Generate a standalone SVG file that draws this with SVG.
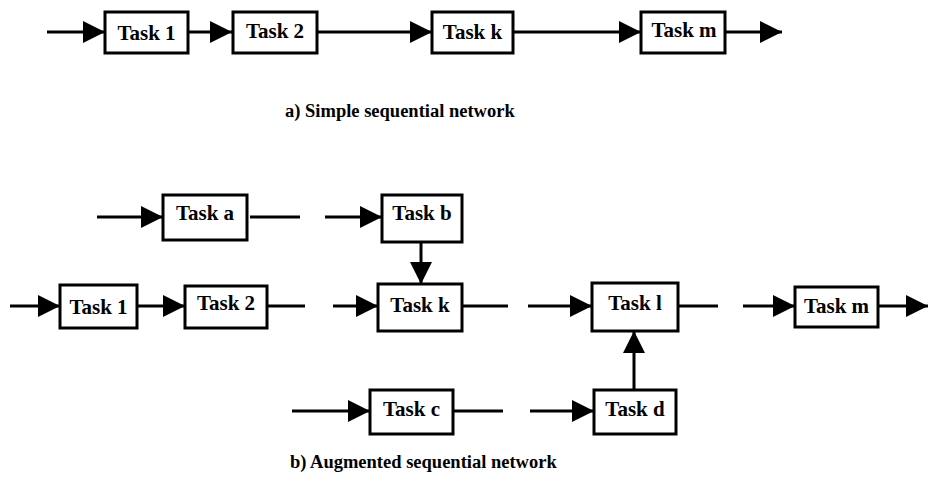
<svg xmlns="http://www.w3.org/2000/svg" width="928" height="492" viewBox="0 0 928 492">
<defs>
<marker id="ah" viewBox="0 0 10 10" refX="10" refY="5" markerUnits="userSpaceOnUse" markerWidth="26" markerHeight="22" orient="auto">
<path d="M0,0 L10,5 L0,10 Z" fill="#000"/>
</marker>
</defs>
<style>
.box{fill:#fff;stroke:#000;stroke-width:3}
.lbl{font-family:"Liberation Serif","Times New Roman",serif;font-weight:bold;font-size:21px;fill:#000;text-anchor:middle}
.cap{font-family:"Liberation Serif","Times New Roman",serif;font-weight:bold;font-size:18.5px;fill:#000}
.ln{stroke:#000;stroke-width:3;fill:none}
.ar{stroke:#000;stroke-width:3;fill:none;marker-end:url(#ah)}
</style>
<rect width="928" height="492" fill="#fff"/>
<g id="connectors">
<line class="ar" x1="47" y1="32" x2="105" y2="32"/>
<line class="ar" x1="188" y1="32" x2="232" y2="32"/>
<line class="ar" x1="317" y1="32" x2="432" y2="32"/>
<line class="ar" x1="513" y1="32" x2="641" y2="32"/>
<line class="ar" x1="725" y1="32" x2="782" y2="32"/>
<line class="ar" x1="97" y1="217" x2="163" y2="217"/>
<line class="ln" x1="250" y1="217" x2="300" y2="217"/>
<line class="ar" x1="325" y1="217" x2="382" y2="217"/>
<line class="ar" x1="421" y1="242" x2="421" y2="284"/>
<line class="ar" x1="10" y1="306" x2="60" y2="306"/>
<line class="ar" x1="137" y1="306" x2="185" y2="306"/>
<line class="ln" x1="267" y1="306" x2="305" y2="306"/>
<line class="ar" x1="333" y1="306" x2="378" y2="306"/>
<line class="ln" x1="462" y1="306" x2="508" y2="306"/>
<line class="ar" x1="528" y1="306" x2="592" y2="306"/>
<line class="ln" x1="678" y1="306" x2="718" y2="306"/>
<line class="ar" x1="743" y1="306" x2="795" y2="306"/>
<line class="ar" x1="878" y1="306" x2="928" y2="306"/>
<line class="ar" x1="292" y1="411" x2="370" y2="411"/>
<line class="ln" x1="453" y1="411" x2="503" y2="411"/>
<line class="ar" x1="530" y1="411" x2="594" y2="411"/>
<line class="ar" x1="634" y1="390" x2="634" y2="331"/>
</g>
<g id="a-task1"><rect class="box" x="105" y="12" width="83" height="41"/><text class="lbl" x="146.5" y="40">Task 1</text></g>
<g id="a-task2"><rect class="box" x="233" y="12" width="84" height="41"/><text class="lbl" x="275" y="38">Task 2</text></g>
<g id="a-taskk"><rect class="box" x="432" y="12" width="81" height="41"/><text class="lbl" x="472.5" y="39">Task k</text></g>
<g id="a-taskm"><rect class="box" x="641" y="12" width="84" height="41"/><text class="lbl" x="684" y="37">Task m</text></g>
<text class="cap" x="285" y="117">a) Simple sequential network</text>
<g id="b-taska"><rect class="box" x="163" y="195" width="84" height="45"/><text class="lbl" x="205" y="220">Task a</text></g>
<g id="b-taskb"><rect class="box" x="382" y="195" width="80" height="47"/><text class="lbl" x="422" y="220">Task b</text></g>
<g id="b-task1"><rect class="box" x="60" y="285" width="77" height="43"/><text class="lbl" x="98.5" y="314">Task 1</text></g>
<g id="b-task2"><rect class="box" x="185" y="286" width="82" height="42"/><text class="lbl" x="226" y="310">Task 2</text></g>
<g id="b-taskk"><rect class="box" x="378" y="284" width="84" height="47"/><text class="lbl" x="420" y="312">Task k</text></g>
<g id="b-taskl"><rect class="box" x="592" y="283" width="86" height="48"/><text class="lbl" x="635" y="310">Task l</text></g>
<g id="b-taskm"><rect class="box" x="795" y="287" width="83" height="40"/><text class="lbl" x="836.5" y="313">Task m</text></g>
<g id="b-taskc"><rect class="box" x="370" y="390" width="83" height="44"/><text class="lbl" x="411.5" y="416">Task c</text></g>
<g id="b-taskd"><rect class="box" x="594" y="390" width="82" height="44"/><text class="lbl" x="635" y="416">Task d</text></g>
<text class="cap" x="290" y="468">b) Augmented sequential network</text>
</svg>
